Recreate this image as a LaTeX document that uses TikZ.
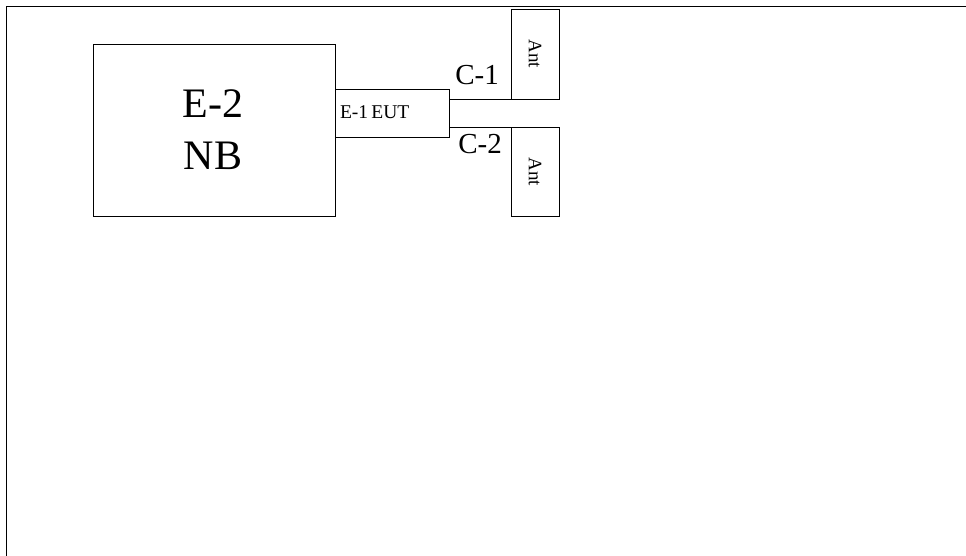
\documentclass[tikz,border=0pt]{standalone}
\usepackage{fontspec}
\setmainfont{Liberation Serif}
\begin{document}
\begin{tikzpicture}[x=1pt,y=-1pt,
  blk/.style={draw=black,line width=0.8pt,inner sep=0pt,outer sep=0pt},
  wire/.style={draw=black,line width=0.8pt},
  lbl/.style={inner sep=0pt,outer sep=0pt}]
\useasboundingbox (0,0) rectangle (966,556);
% frame
\coordinate (ftl) at (6.5,6);
\coordinate (ftr) at (966,6);
\coordinate (fbl) at (6.5,556);
\draw[wire] (fbl) -- (ftl) -- (ftr);
% boxes
\node[blk,minimum width=242pt,minimum height=172pt] (nb) at (214,130) {};
\node[blk,minimum width=114pt,minimum height=48pt] (eut) at (392,113) {};
\node[blk,minimum width=48pt,minimum height=90pt] (ant1) at (535.5,54.3) {};
\node[blk,minimum width=48pt,minimum height=89pt] (ant2) at (535.5,172) {};
% texts
\node[lbl,anchor=base] (t1) at (213,117.3) {\fontsize{42}{42}\selectfont E-2};
\node[lbl,anchor=base] (t2) at (213,169.3) {\fontsize{42}{42}\selectfont NB};
\node[lbl,anchor=base west] (t3) at (340,118.3) {\fontsize{19.5}{19.5}\selectfont E-1\kern-0.08em\ EUT};
\node[lbl,rotate=-90] (a1) at (535,54) {\fontsize{19}{19}\selectfont Ant};
\node[lbl,rotate=-90] (a2) at (535,172) {\fontsize{19}{19}\selectfont Ant};
\node[lbl,anchor=base] (c1) at (477,85) {\fontsize{29}{29}\selectfont C-1};
\node[lbl,anchor=base] (c2) at (480,154) {\fontsize{29}{29}\selectfont C-2};
% connectors
\draw[wire] (eut.east |- ant1.south) -- (ant1.south east);
\draw[wire] (eut.east |- ant2.north) -- (ant2.north east);
\end{tikzpicture}
\end{document}
